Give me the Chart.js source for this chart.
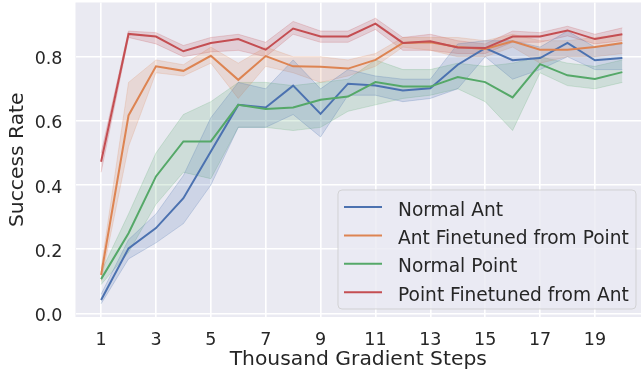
<!DOCTYPE html>
<html lang="en">
<head>
  <meta charset="UTF-8">
  <title>Success Rate</title>
  <script src="https://cdn.jsdelivr.net/npm/chart.js"></script>
  <style>
    body {
      margin: 0;
      background-color: #ffffff;
      overflow: hidden;
    }
    canvas {
      display: block;
    }
  </style>
</head>
<body>
  <canvas id="successChart" width="641" height="375"></canvas>

  <script>
    // Data
    const steps = [1, 2, 3, 4, 5, 6, 7, 8, 9, 10, 11, 12, 13, 14, 15, 16, 17, 18, 19, 20];
    const xTicks = [1, 3, 5, 7, 9, 11, 13, 15, 17, 19];
    const yTicks = [0, 0.2, 0.4, 0.6, 0.8];

    const normalAnt      = [0.042, 0.203, 0.266, 0.359, 0.505, 0.65, 0.642, 0.71, 0.622, 0.716, 0.71, 0.695, 0.702, 0.775, 0.827, 0.789, 0.796, 0.843, 0.789, 0.796];
    const normalAntLow   = [0.03, 0.17, 0.22, 0.28, 0.40, 0.58, 0.58, 0.62, 0.55, 0.68, 0.68, 0.66, 0.67, 0.70, 0.80, 0.73, 0.76, 0.80, 0.76, 0.76];
    const normalAntHigh  = [0.06, 0.23, 0.31, 0.43, 0.61, 0.72, 0.70, 0.79, 0.70, 0.76, 0.74, 0.73, 0.73, 0.84, 0.85, 0.85, 0.83, 0.88, 0.83, 0.84];

    const antFromPoint     = [0.12, 0.617, 0.77, 0.756, 0.803, 0.728, 0.802, 0.77, 0.769, 0.763, 0.79, 0.843, 0.845, 0.83, 0.824, 0.848, 0.822, 0.822, 0.83, 0.843];
    const antFromPointLow  = [0.10, 0.52, 0.75, 0.74, 0.78, 0.67, 0.77, 0.75, 0.72, 0.74, 0.77, 0.83, 0.82, 0.80, 0.80, 0.83, 0.78, 0.80, 0.80, 0.81];
    const antFromPointHigh = [0.14, 0.72, 0.79, 0.775, 0.83, 0.78, 0.83, 0.80, 0.80, 0.79, 0.81, 0.86, 0.86, 0.86, 0.85, 0.87, 0.85, 0.85, 0.86, 0.87];

    const normalPoint     = [0.107, 0.25, 0.427, 0.536, 0.536, 0.65, 0.637, 0.642, 0.666, 0.676, 0.721, 0.707, 0.707, 0.737, 0.721, 0.673, 0.777, 0.742, 0.731, 0.752];
    const normalPointLow  = [0.09, 0.19, 0.34, 0.44, 0.42, 0.58, 0.58, 0.57, 0.58, 0.63, 0.65, 0.67, 0.68, 0.70, 0.66, 0.57, 0.75, 0.71, 0.70, 0.72];
    const normalPointHigh = [0.13, 0.31, 0.50, 0.62, 0.66, 0.72, 0.72, 0.71, 0.72, 0.73, 0.79, 0.76, 0.76, 0.78, 0.77, 0.78, 0.80, 0.78, 0.77, 0.79];

    const pointFromAnt     = [0.473, 0.871, 0.863, 0.817, 0.843, 0.855, 0.822, 0.888, 0.863, 0.863, 0.903, 0.843, 0.848, 0.829, 0.827, 0.863, 0.863, 0.882, 0.855, 0.87];
    const pointFromAntLow  = [0.44, 0.86, 0.84, 0.80, 0.815, 0.82, 0.80, 0.87, 0.845, 0.845, 0.885, 0.82, 0.82, 0.81, 0.81, 0.845, 0.845, 0.865, 0.84, 0.85];
    const pointFromAntHigh = [0.50, 0.88, 0.875, 0.835, 0.86, 0.87, 0.845, 0.91, 0.88, 0.88, 0.92, 0.86, 0.87, 0.85, 0.84, 0.88, 0.875, 0.895, 0.87, 0.89];

    const seriesNames = ["Normal Ant", "Ant Finetuned from Point", "Normal Point", "Point Finetuned from Ant"];
    const seriesColors = ["#4c72b0", "#dd8452", "#55a868", "#c44e52"];
    const bandFills = ["rgba(76,114,176,0.18)", "rgba(221,132,82,0.18)", "rgba(85,168,104,0.18)", "rgba(196,78,82,0.18)"];
    const bandEdges = ["rgba(76,114,176,0.25)", "rgba(221,132,82,0.2)", "rgba(85,168,104,0.22)", "rgba(196,78,82,0.22)"];

    const seriesValues = [normalAnt, antFromPoint, normalPoint, pointFromAnt];
    const seriesLows = [normalAntLow, antFromPointLow, normalPointLow, pointFromAntLow];
    const seriesHighs = [normalAntHigh, antFromPointHigh, normalPointHigh, pointFromAntHigh];

    const textColor = "#262626";
    const toPoints = (values) => steps.map((s, i) => ({ x: s, y: values[i] }));

    // Build datasets: each band as low + high (filled to previous), lines on top
    const datasets = [];
    seriesNames.forEach((name, k) => {
      datasets.push({
        label: name + " low",
        data: toPoints(seriesLows[k]),
        borderColor: bandEdges[k],
        borderWidth: 1,
        pointRadius: 0,
        fill: false,
        order: 10 + k,
      });
      datasets.push({
        label: name + " high",
        data: toPoints(seriesHighs[k]),
        borderColor: bandEdges[k],
        borderWidth: 1,
        backgroundColor: bandFills[k],
        pointRadius: 0,
        fill: "-1",
        order: 10 + k,
      });
    });
    seriesNames.forEach((name, k) => {
      datasets.push({
        label: name,
        data: toPoints(seriesValues[k]),
        borderColor: seriesColors[k],
        borderWidth: 2,
        pointRadius: 0,
        fill: false,
        tension: 0,
        order: 4 - k,
      });
    });

    // Background of the plot area (seaborn darkgrid look)
    const plotBackground = {
      id: "plotBackground",
      beforeDraw(chart) {
        const { ctx, chartArea } = chart;
        ctx.save();
        ctx.fillStyle = "#eaeaf2";
        ctx.fillRect(chartArea.left, chartArea.top, chartArea.right - chartArea.left, chartArea.bottom - chartArea.top);
        ctx.restore();
      },
    };

    // Y tick labels drawn on the baseline so they sit like matplotlib's
    const yTickLabels = {
      id: "yTickLabels",
      afterDraw(chart) {
        const { ctx } = chart;
        const yScale = chart.scales.y;
        ctx.save();
        ctx.font = '17.5px "DejaVu Sans"';
        ctx.fillStyle = textColor;
        ctx.textAlign = "right";
        ctx.textBaseline = "alphabetic";
        yTicks.forEach((v) => {
          ctx.fillText(v.toFixed(1), yScale.right - 13, yScale.getPixelForValue(v) + 7.5);
        });
        ctx.restore();
      },
    };

    // Legend box inside the plot, lower right
    const insideLegend = {
      id: "insideLegend",
      afterDraw(chart) {
        const { ctx } = chart;
        const boxX = 338, boxY = 190, boxW = 298, boxH = 119, r = 4;
        ctx.save();
        ctx.beginPath();
        ctx.moveTo(boxX + r, boxY);
        ctx.arcTo(boxX + boxW, boxY, boxX + boxW, boxY + boxH, r);
        ctx.arcTo(boxX + boxW, boxY + boxH, boxX, boxY + boxH, r);
        ctx.arcTo(boxX, boxY + boxH, boxX, boxY, r);
        ctx.arcTo(boxX, boxY, boxX + boxW, boxY, r);
        ctx.closePath();
        ctx.fillStyle = "rgba(234,234,242,0.8)";
        ctx.fill();
        ctx.strokeStyle = "rgba(204,204,204,0.8)";
        ctx.lineWidth = 1;
        ctx.stroke();

        ctx.font = '18.6px "DejaVu Sans"';
        ctx.textBaseline = "alphabetic";
        ctx.fillStyle = textColor;
        seriesNames.forEach((name, k) => {
          const y = 207 + k * 28.4;
          ctx.strokeStyle = seriesColors[k];
          ctx.lineWidth = 2;
          ctx.beginPath();
          ctx.moveTo(344, y);
          ctx.lineTo(382, y);
          ctx.stroke();
          ctx.fillText(name, 398, y + 8.5);
        });
        ctx.restore();
      },
    };

    const zeroPadding = (scale) => {
      scale.paddingTop = 0;
      scale.paddingBottom = 0;
      scale.paddingLeft = 0;
      scale.paddingRight = 0;
    };

    const ctx = document.getElementById("successChart").getContext("2d");
    const chart = new Chart(ctx, {
      type: "line",
      data: { datasets: datasets },
      options: {
        responsive: false,
        animation: false,
        layout: { padding: { top: 2.5, right: 0, left: 0, bottom: 0 } },
        plugins: {
          legend: { display: false },
          tooltip: { enabled: false },
        },
        scales: {
          x: {
            type: "linear",
            min: 0.067,
            max: 20.68,
            afterBuildTicks: (scale) => {
              scale.ticks = xTicks.map((v) => ({ value: v }));
            },
            afterFit: (scale) => {
              scale.height = 58;
              zeroPadding(scale);
            },
            border: { display: false },
            grid: { color: "#ffffff", lineWidth: 1.6, drawTicks: false },
            ticks: {
              color: textColor,
              padding: 12.5,
              maxRotation: 0,
              autoSkip: false,
              font: { family: "DejaVu Sans", size: 17.5 },
            },
            title: {
              display: true,
              text: "Thousand Gradient Steps",
              color: textColor,
              font: { family: "DejaVu Sans", size: 20.3 },
              padding: { top: 0, bottom: 3 },
            },
          },
          y: {
            type: "linear",
            min: -0.011,
            max: 0.969,
            afterBuildTicks: (scale) => {
              scale.ticks = yTicks.map((v) => ({ value: v }));
            },
            afterFit: (scale) => {
              scale.width = 75.5;
              zeroPadding(scale);
            },
            border: { display: false },
            grid: { color: "#ffffff", lineWidth: 1.6, drawTicks: false },
            ticks: { display: false },
            title: {
              display: true,
              text: "Success Rate",
              color: textColor,
              font: { family: "DejaVu Sans", size: 20.3 },
              padding: { top: 6, bottom: 0 },
            },
          },
        },
      },
      plugins: [plotBackground, yTickLabels, insideLegend],
    });
  </script>
</body>
</html>
